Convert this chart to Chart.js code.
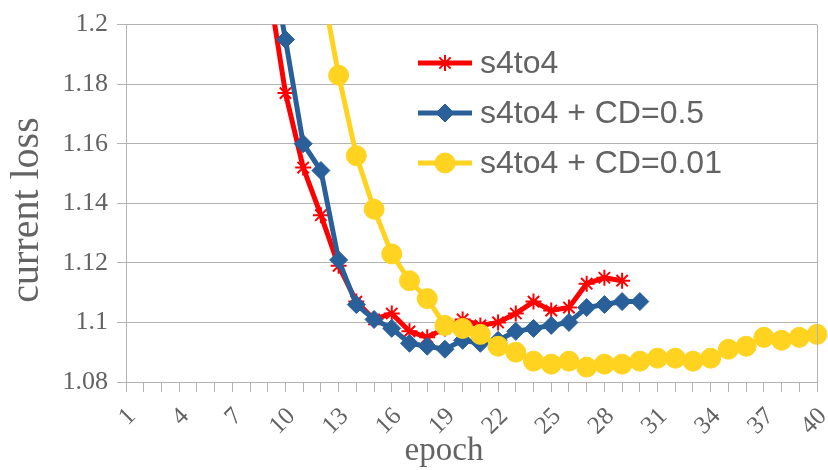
<!DOCTYPE html>
<html lang="en">
<head>
  <meta charset="UTF-8" />
  <title>current loss per epoch</title>
  <script src="https://cdn.jsdelivr.net/npm/chart.js"></script>
  <style>
    body { margin: 0; background: #fff; }
    #wrap { width: 828px; height: 470px; position: relative; }
  </style>
</head>
<body>
  <div id="wrap"><canvas id="lossChart"></canvas></div>

  <script>
    // epochs 1..40, loss per run (null = not in this run / above the plotted range)
    const epochs = Array.from({ length: 40 }, (_, i) => String(i + 1));

    const s4to4 = [null, null, null, null, null, null, null, null,
      1.215, 1.177, 1.152, 1.136, 1.119, 1.107, 1.101, 1.103, 1.097, 1.095, 1.098, 1.101,
      1.099, 1.100, 1.103, 1.107, 1.104, 1.105, 1.113, 1.115, 1.114,
      null, null, null, null, null, null, null, null, null, null, null];

    const s4to4Cd05 = [null, null, null, null, null, null, null, null,
      1.228, 1.195, 1.160, 1.151, 1.121, 1.106, 1.101, 1.098, 1.093, 1.092, 1.091, 1.094,
      1.093, 1.094, 1.097, 1.098, 1.099, 1.100, 1.105, 1.106, 1.107, 1.107,
      null, null, null, null, null, null, null, null, null, null];

    const s4to4Cd001 = [null, null, null, null, null, null, null, null, null, null, null,
      1.215, 1.183, 1.156, 1.138, 1.123, 1.114, 1.108, 1.099, 1.098,
      1.096, 1.092, 1.090, 1.087, 1.086, 1.087, 1.085, 1.086, 1.086, 1.087,
      1.088, 1.088, 1.087, 1.088, 1.091, 1.092, 1.095, 1.094, 1.095, 1.096];

    const seriesNames = ['s4to4', 's4to4 + CD=0.5', 's4to4 + CD=0.01'];
    const seriesColors = ['#ff0000', '#2a6099', '#ffd320'];

    const yTicks = [1.08, 1.1, 1.12, 1.14, 1.16, 1.18, 1.2];
    const yTickLabels = ['1.08', '1.1', '1.12', '1.14', '1.16', '1.18', '1.2'];

    const gray = '#b3b3b3';
    const textGray = '#636363';
    const serif = '"Liberation Serif", "DejaVu Serif", serif';
    const sans = '"Liberation Sans", Arial, sans-serif';

    const pointStyles = [
      { pointStyle: 'star', pointRadius: 8, pointBorderWidth: 2 },
      { pointStyle: 'rectRot', pointRadius: 9, pointBorderWidth: 1 },
      { pointStyle: 'circle', pointRadius: 10, pointBorderWidth: 1 }
    ];

    // only cut lines at the top edge, so the last marker can hang over the right border
    const clipTop = { left: false, top: 0, right: false, bottom: false };

    const datasets = [s4to4, s4to4Cd05, s4to4Cd001].map((data, i) => ({
      label: seriesNames[i],
      data: data,
      borderColor: seriesColors[i],
      backgroundColor: seriesColors[i],
      pointBackgroundColor: seriesColors[i],
      pointBorderColor: seriesColors[i],
      borderWidth: 5,
      tension: 0,
      clip: clipTop,
      order: 2 - i,
      ...pointStyles[i],
      pointHoverRadius: pointStyles[i].pointRadius
    }));

    // axis titles, right border and the legend box inside the plot
    const decorations = {
      id: 'decorations',
      afterDraw(chart) {
        const { ctx, chartArea } = chart;
        ctx.save();

        ctx.strokeStyle = gray;
        ctx.lineWidth = 1;
        ctx.beginPath();
        ctx.moveTo(chartArea.right + 0.5, chartArea.top);
        ctx.lineTo(chartArea.right + 0.5, chartArea.bottom);
        ctx.stroke();

        ctx.fillStyle = textGray;
        ctx.textAlign = 'center';
        ctx.textBaseline = 'middle';
        ctx.font = '33px ' + serif;
        ctx.fillText('epoch', 444, 451);

        ctx.save();
        ctx.translate(27, 210);
        ctx.rotate(-Math.PI / 2);
        ctx.font = '40px ' + serif;
        ctx.fillText('current loss', 0, 0);
        ctx.restore();

        const rowsY = [63, 113, 163];
        seriesNames.forEach((name, i) => {
          const y = rowsY[i];
          ctx.strokeStyle = seriesColors[i];
          ctx.lineWidth = 5;
          ctx.beginPath();
          ctx.moveTo(418, y);
          ctx.lineTo(472, y);
          ctx.stroke();
          ctx.fillStyle = seriesColors[i];
          ctx.lineWidth = pointStyles[i].pointBorderWidth;
          Chart.helpers.drawPoint(ctx, {
            pointStyle: pointStyles[i].pointStyle,
            radius: pointStyles[i].pointRadius,
            borderWidth: pointStyles[i].pointBorderWidth,
            rotation: 0
          }, 445, y);
          ctx.fillStyle = textGray;
          ctx.textAlign = 'left';
          ctx.font = '32px ' + sans;
          ctx.fillText(name, 480, y + 1);
        });

        ctx.restore();
      }
    };

    new Chart(document.getElementById('lossChart'), {
      type: 'line',
      data: { labels: epochs, datasets: datasets },
      options: {
        responsive: true,
        maintainAspectRatio: false,
        animation: false,
        layout: { padding: { top: 20, right: 7, left: 0, bottom: 0 } },
        plugins: {
          legend: { display: false },
          tooltip: { enabled: false }
        },
        scales: {
          x: {
            offset: false,
            grid: { drawOnChartArea: false, color: gray, tickLength: 10 },
            border: { color: gray },
            ticks: {
              autoSkip: false,
              minRotation: 45,
              maxRotation: 45,
              padding: 10,
              labelOffset: 6,
              color: textGray,
              font: { family: serif, size: 25 },
              callback: (val, idx) => (idx % 3 === 0 ? epochs[idx] : '')
            },
            afterFit: scale => {
              scale.height = 88;
              scale.paddingLeft = 0;
              scale.paddingRight = 0;
            }
          },
          y: {
            min: 1.08,
            max: 1.2,
            grid: { color: gray, tickLength: 9 },
            border: { color: gray },
            afterBuildTicks: scale => { scale.ticks = yTicks.map(v => ({ value: v })); },
            ticks: {
              padding: 9,
              color: textGray,
              font: { family: serif, size: 26 },
              callback: (val, idx) => yTickLabels[idx]
            },
            afterFit: scale => { scale.width = 126; }
          }
        }
      },
      plugins: [decorations]
    });
  </script>
</body>
</html>
